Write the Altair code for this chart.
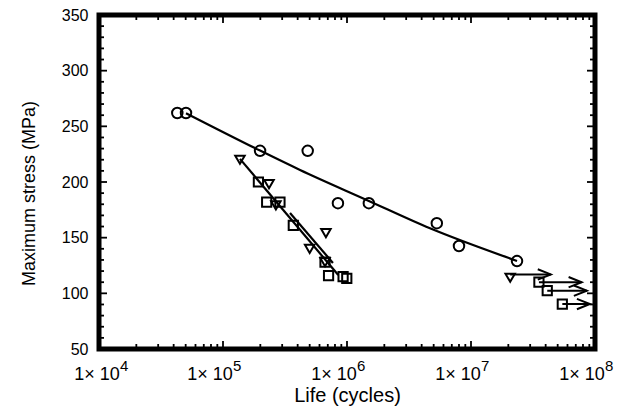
import altair as alt
import pandas as pd

# ---- data ----
circle_N = [4.28e4, 5.03e4, 1.99e5, 4.82e5, 8.45e5, 1.50e6, 5.3e6, 8.0e6, 2.35e7]
circle_S = [262, 262, 228, 228, 181, 181, 163, 142.5, 129]

square_N = [1.93e5, 2.25e5, 2.88e5, 3.69e5, 6.65e5, 7.1e5, 9.3e5, 9.96e5]
square_S = [200, 182, 182, 161, 128, 116, 115, 113.5]

triangle_N = [1.37e5, 2.35e5, 2.67e5, 5.0e5, 6.76e5, 6.65e5]
triangle_S = [220, 198, 179, 140, 154, 128]

# run-outs (specimens that did not fail)
runout_tri_N = [2.07e7]
runout_tri_S = [114]
runout_sq_N = [3.53e7, 4.12e7, 5.45e7]
runout_sq_S = [110, 102.4, 90.4]
arrow_start_N = [2.07e7, 3.53e7, 4.12e7, 5.45e7]
arrow_end_N = [4.4e7, 7.8e7, 8.6e7, 9.1e7]
arrow_S = [117, 110, 102.4, 90.4]

# fitted curves
fit_circle_N = [5.03e4, 1.99e5, 4.18e5, 1.44e6, 4.67e6, 2.35e7]
fit_circle_S = [261.8, 228.2, 210.8, 183.9, 158.4, 129.1]
fit_a_N = [1.37e5, 8.5e5]
fit_a_S = [220.8, 116.5]
fit_b_N = [3.47e5, 7.7e5]
fit_b_S = [172.2, 127.3]

# axes
x_tick_values = [1e4, 1e5, 1e6, 1e7, 1e8]
x_tick_base = ["1\u00d7 10"] * 5
x_tick_exp = ["4", "5", "6", "7", "8"]
x_minor = [k * 10 ** n for n in range(4, 8) for k in range(2, 10)]
x_major = [1e5, 1e6, 1e7]
y_tick_values = [50, 100, 150, 200, 250, 300, 350]
y_minor = [v for v in range(60, 350, 10) if v % 50 != 0]
y_major = [100, 150, 200, 250, 300]
x_min, x_max, y_min, y_max = 1e4, 1e8, 50, 350

W, H = 496, 334
FONT = "Liberation Sans"

xscale = alt.Scale(type="log", domain=[x_min, x_max], nice=False)
yscale = alt.Scale(domain=[y_min, y_max], nice=False, zero=False)

X = alt.X("N:Q", scale=xscale, axis=alt.Axis(
    values=x_tick_values, labels=False, ticks=False, tickSize=0, domain=False,
    grid=False, title="Life (cycles)", titleY=52, titleBaseline="alphabetic",
    titleFontSize=20, titleFont=FONT, titleColor="black", titleFontWeight="normal"))
Y = alt.Y("S:Q", scale=yscale, axis=alt.Axis(
    values=y_tick_values, ticks=False, tickSize=0, domain=False, grid=False,
    title="Maximum stress (MPa)", labelPadding=11, titleX=-61, titleY=178,
    labelFontSize=16, titleFontSize=18, labelFont=FONT, titleFont=FONT,
    labelColor="black", titleColor="black", titleFontWeight="normal",
    labelFlush=False, labelOverlap=False))
Xs = alt.X("N:Q", scale=xscale)
Ys = alt.Y("S:Q", scale=yscale)


def df(n, s):
    return pd.DataFrame({"N": n, "S": s})


# plot frame
frame = alt.Chart(pd.DataFrame({
    "N": [x_min, x_max, x_max, x_min, x_min],
    "S": [y_max, y_max, y_min, y_min, y_max],
    "o": [0, 1, 2, 3, 4]})).mark_line(
    color="black", strokeWidth=5, strokeCap="square", strokeJoin="miter", clip=False
).encode(x=X, y=Y, order="o:O")

circles = alt.Chart(df(circle_N, circle_S)).mark_point(
    shape="circle", filled=False, size=110, strokeWidth=2, color="black", opacity=1
).encode(x=Xs, y=Ys)

squares = alt.Chart(df(square_N + runout_sq_N, square_S + runout_sq_S)).mark_point(
    shape="square", filled=False, size=85, strokeWidth=2, color="black", opacity=1
).encode(x=Xs, y=Ys)

triangles = alt.Chart(df(triangle_N + runout_tri_N, triangle_S + runout_tri_S)).mark_point(
    shape="triangle-down", filled=False, size=90, strokeWidth=2, color="black", opacity=1
).encode(x=Xs, y=Ys)

fit_c = alt.Chart(df(fit_circle_N, fit_circle_S)).mark_line(
    color="black", strokeWidth=2.2, interpolate="monotone").encode(x=Xs, y=Ys)
fit_a = alt.Chart(df(fit_a_N, fit_a_S)).mark_line(color="black", strokeWidth=2.2).encode(x=Xs, y=Ys)
fit_b = alt.Chart(df(fit_b_N, fit_b_S)).mark_line(color="black", strokeWidth=2.2).encode(x=Xs, y=Ys)

arrows_df = pd.DataFrame({"N": arrow_start_N, "N2": arrow_end_N, "S": arrow_S})
arrow_lines = alt.Chart(arrows_df).mark_rule(color="black", strokeWidth=2).encode(
    x=Xs, x2="N2:Q", y=Ys)
arrow_heads = alt.Chart(pd.DataFrame({"N": arrow_end_N, "S": arrow_S})).mark_point(
    shape="M -1 -0.4 L 0 0 L -1 0.4", filled=False, size=676, strokeWidth=2,
    color="black", opacity=1).encode(x=Xs, y=Ys)

# x tick labels: "1× 10" with a raised exponent
lab_df = pd.DataFrame({"N": x_tick_values, "base": x_tick_base, "exp": x_tick_exp})
first = f"datum.N <= {x_min}"
rest = f"datum.N > {x_min}"


def labels(filt, dx_base, dx_exp):
    base = alt.Chart(lab_df).transform_filter(filt).mark_text(
        font=FONT, fontSize=18, color="black", align="center", baseline="alphabetic", dx=dx_base
    ).encode(x=Xs, y=alt.value(H + 31), text="base:N")
    exp = alt.Chart(lab_df).transform_filter(filt).mark_text(
        font=FONT, fontSize=15, color="black", align="left", baseline="alphabetic", dx=dx_exp
    ).encode(x=Xs, y=alt.value(H + 22), text="exp:N")
    return [base, exp]


label_layers = labels(first, -2, 21) + labels(rest, -13, 10)


# inward ticks on all four sides, drawn as stroked path symbols anchored on the frame
def tick_layer(n_vals, s_vals, path, length):
    return alt.Chart(df(n_vals, s_vals)).mark_point(
        shape=path, filled=False, size=4 * length * length, strokeWidth=1.8,
        color="black", opacity=1
    ).encode(x=Xs, y=Ys)


ticks = [
    tick_layer(x_minor, [y_min] * len(x_minor), "M 0 0 L 0 -1", 5),
    tick_layer(x_major, [y_min] * len(x_major), "M 0 0 L 0 -1", 8),
    tick_layer(x_minor, [y_max] * len(x_minor), "M 0 0 L 0 1", 5),
    tick_layer(x_major, [y_max] * len(x_major), "M 0 0 L 0 1", 8),
    tick_layer([x_min] * len(y_minor), y_minor, "M 0 0 L 1 0", 5),
    tick_layer([x_min] * len(y_major), y_major, "M 0 0 L 1 0", 8),
    tick_layer([x_max] * len(y_minor), y_minor, "M 0 0 L -1 0", 5),
    tick_layer([x_max] * len(y_major), y_major, "M 0 0 L -1 0", 8),
]

chart = alt.layer(
    frame, circles, squares, triangles, fit_c, fit_a, fit_b, arrow_lines, arrow_heads,
    *label_layers, *ticks
).properties(
    width=W, height=H,
    autosize=alt.AutoSizeParams(type="none"),
    padding={"left": 91, "top": 7, "right": 24, "bottom": 59},
    background="white",
).configure_view(strokeWidth=0)

chart.save("out.html", embed_options={"renderer": "svg", "actions": False})
